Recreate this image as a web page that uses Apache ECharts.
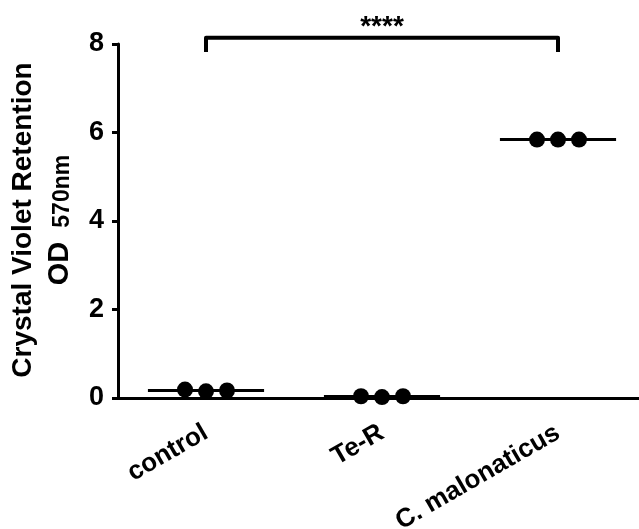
<!DOCTYPE html>
<html>
<head>
<meta charset="utf-8">
<script src="https://cdn.jsdelivr.net/npm/echarts@6/dist/echarts.min.js"></script>
<style>
html,body{margin:0;padding:0;background:#fff;}
#chart{width:639px;height:529px;}
</style>
</head>
<body>
<div id="chart"></div>
<script>
// ---- data ----
const categories = ['control', 'Te-R', 'C. malonaticus'];
const replicate1 = [0.19, 0.04, 5.84];
const replicate2 = [0.15, 0.02, 5.84];
const replicate3 = [0.17, 0.04, 5.84];
const yMin = 0, yMax = 8, yInterval = 2;
const bracketFrom = 'control', bracketTo = 'C. malonaticus', bracketLabelAt = 'Te-R';
const bracketLeg = 7.82, bracketTop = 8.14;
const sigLabel = '****';
const yTitle = 'Crystal Violet Retention';
const yTitleSub = ['OD', '570nm'];

const replicates = [replicate1, replicate2, replicate3];
const means = categories.map((c, i) => (replicate1[i] + replicate2[i] + replicate3[i]) / 3);

const FONT = '"Liberation Sans", Arial, Helvetica, sans-serif';
const chart = echarts.init(document.getElementById('chart'), null, {renderer: 'canvas'});

const jitter = [-21, 0, 21];
const scatterSeries = replicates.map((rep, k) => ({
  type: 'scatter',
  data: rep,
  symbol: 'circle',
  symbolSize: 16,
  symbolOffset: [jitter[k], 0],
  itemStyle: {color: '#000', opacity: 1},
  z: 5,
  silent: true
}));

const option = {
  animation: false,
  backgroundColor: '#fff',
  grid: {left: 118, right: -7, top: 44, bottom: 131, containLabel: false, outerBoundsMode: 'none'},
  xAxis: {
    type: 'category',
    data: categories,
    boundaryGap: true,
    axisLine: {lineStyle: {color: '#000', width: 3}},
    axisTick: {alignWithLabel: true, length: 9, lineStyle: {color: '#000', width: 3}},
    axisLabel: {rotate: 30, margin: 33, color: '#000', fontSize: 26, fontWeight: 'bold', fontFamily: FONT, interval: 0},
    splitLine: {show: false}
  },
  yAxis: {
    type: 'value',
    min: yMin, max: yMax, interval: yInterval,
    axisLine: {show: true, lineStyle: {color: '#000', width: 3}},
    axisTick: {show: true, length: 6, lineStyle: {color: '#000', width: 3}},
    axisLabel: {margin: 14, color: '#000', fontSize: 27, fontWeight: 'bold', fontFamily: FONT},
    splitLine: {show: false}
  },
  graphic: [
    {
      type: 'text', x: 23, y: 220, rotation: Math.PI / 2,
      style: {text: yTitle, font: 'bold 28px ' + FONT, fill: '#000', align: 'center', verticalAlign: 'middle'}
    },
    {
      type: 'text', x: 58, y: 220, rotation: Math.PI / 2,
      style: {
        text: '{a|' + yTitleSub[0] + '}{b|' + yTitleSub[1] + '}',
        align: 'center', verticalAlign: 'middle', fill: '#000',
        rich: {
          a: {fontSize: 29, fontWeight: 'bold', fontFamily: FONT, fill: '#000', lineHeight: 32, verticalAlign: 'bottom'},
          b: {fontSize: 23, fontWeight: 'bold', fontFamily: FONT, fill: '#000', lineHeight: 32, verticalAlign: 'bottom', padding: [14, 0, 0, 14]}
        }
      }
    }
  ],
  series: [
    {
      type: 'custom',
      data: means.map((m, i) => [i, m]),
      encode: {x: 0, y: 1},
      z: 3,
      silent: true,
      renderItem: function (params, api) {
        const c = api.coord([api.value(0), api.value(1)]);
        const half = api.size([1, 0])[0] * 0.33;
        return {
          type: 'line',
          shape: {x1: c[0] - half, y1: c[1], x2: c[0] + half, y2: c[1]},
          style: {stroke: '#000', lineWidth: 3}
        };
      }
    },
    ...scatterSeries,
    {
      type: 'line',
      data: [[bracketFrom, bracketLeg], [bracketFrom, bracketTop], [bracketTo, bracketTop], [bracketTo, bracketLeg]],
      symbol: 'none',
      clip: false,
      lineStyle: {color: '#000', width: 4, join: 'round', cap: 'butt'},
      z: 6,
      silent: true
    },
    {
      type: 'scatter',
      data: [[bracketLabelAt, bracketTop]],
      symbolSize: 0,
      clip: false,
      silent: true,
      itemStyle: {opacity: 1},
      label: {show: true, position: 'top', distance: -3, formatter: sigLabel, color: '#000', opacity: 1, fontSize: 28, fontFamily: FONT, fontWeight: 'bold'},
      z: 6
    }
  ]
};
chart.setOption(option);
</script>
</body>
</html>
